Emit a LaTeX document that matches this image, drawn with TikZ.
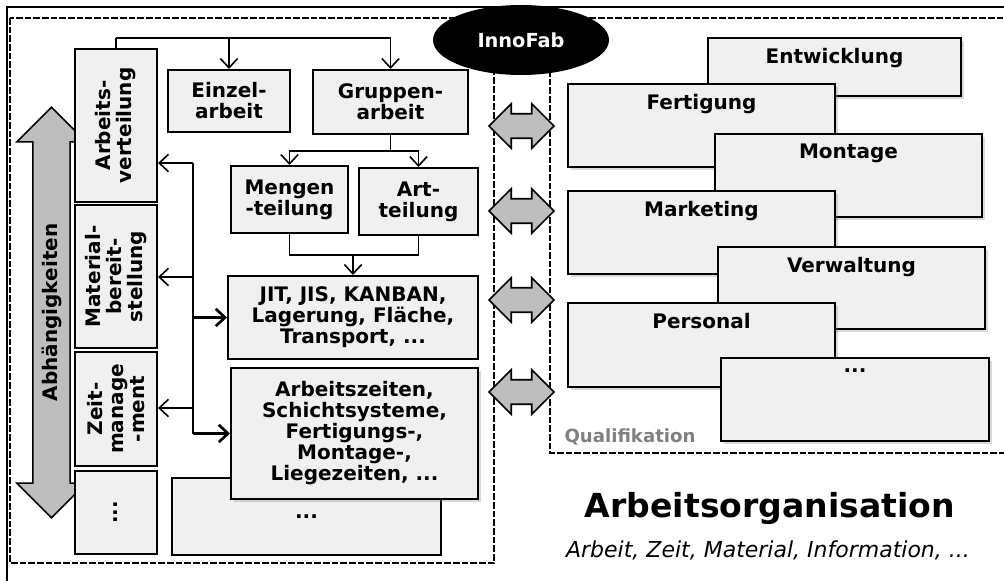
\documentclass[tikz,border=0pt]{standalone}
\usepackage{fontspec}
\setmainfont{DejaVu Sans}
\usetikzlibrary{positioning, shapes.geometric, shapes.arrows, arrows.meta, shadows}

\definecolor{boxgray}{HTML}{F0F0F0}
\definecolor{arrgray}{HTML}{BEBEBE}
\definecolor{labgray}{HTML}{808080}
\newcommand{\boxfont}{\bfseries\fontsize{15}{15.75}\selectfont}

\begin{document}
\begin{tikzpicture}[x=0.75pt, y=-0.75pt,
  box/.style={rectangle, draw=black, line width=1.5pt, fill=boxgray, font=\boxfont,
              align=center, inner sep=0pt},
  vbox/.style={box, rotate=90, minimum height=61.5pt},
  shade/.style={drop shadow={opacity=0.3, shadow xshift=2.5pt, shadow yshift=-2.5pt}},
  qbox/.style={box, shade, minimum width=200.25pt, minimum height=62.25pt},
  qtext/.style={anchor=north, yshift=-5pt, font=\boxfont},
  frame/.style={line width=1.2pt, dash pattern=on 5pt off 1.5pt},
  dblarr/.style={double arrow, draw=black, fill=arrgray, line width=1.2pt,
                 double arrow head extend=7.5pt, minimum height=48.75pt,
                 inner xsep=0pt, inner ysep=8.6pt},
  line/.style={line width=1.2pt},
  arr/.style={line width=1.2pt, -{Straight Barb[length=7pt, width=13pt]}},
  thickarr/.style={arr, line width=2pt}
]
\clip (0,0) rectangle (1004,581);

% Frames
\draw[line width=1.5pt] (7,600) -- (7,7) -- (1010,7);
\draw[frame] (10,18) rectangle (494,563);
\draw[frame] (494,18) -- (1010,18);
\draw[frame] (550,18) -- (550,453) -- (1010,453);

\node[ellipse, fill=black, minimum width=132pt, minimum height=52.5pt, text=white,
      font=\bfseries\fontsize{14.5}{16}\selectfont] (innofab) at (521,40) {InnoFab};

% Double arrows between both sides
\foreach \y [count=\i] in {126,211,300,392}
  \node[dblarr] (dbl\i) at (521.5,\y) {};

% Dependencies
\node[double arrow, draw=black, fill=arrgray, line width=1.2pt, rotate=90,
      minimum height=308pt, double arrow head extend=12pt, inner xsep=0pt,
      inner ysep=6pt, font=\boxfont] (abh) at (51.5,312.5) {Abhängigkeiten};

% Left column
\node[vbox, minimum width=114.75pt] (arbv) at (116,125.5) {Arbeits-\\verteilung};
\node[vbox, minimum width=107.25pt] (matb) at (116,276.5) {Material-\\bereit-\\stellung};
\node[vbox, minimum width=85.5pt] (zeitm) at (116,409) {Zeit-\\manage\\-ment};
\node[vbox, minimum width=62.25pt] (etc) at (116,512.5) {...};

% Middle boxes
\node[box, minimum width=91.5pt, minimum height=46.5pt] (einzel) at (229,101) {Einzel-\\arbeit};
\node[box, minimum width=116.25pt, minimum height=48pt] (gruppen) at (390.5,102) {Gruppen-\\arbeit};
\node[box, minimum width=87.75pt, minimum height=50.25pt] (mengen) at (289.5,199.5) {Mengen\\-teilung};
\node[box, minimum width=89.25pt, minimum height=50.25pt] (art) at (418.5,201.5) {Art-\\teilung};
\node[box, minimum width=187.5pt, minimum height=62.25pt] (jit) at (353,317.5)
  {JIT, JIS, KANBAN,\\Lagerung, Fläche,\\Transport, ...};
\node[box, minimum width=201.75pt, minimum height=57.75pt] (more) at (306.5,516.5) {...};
\node[box, shade, minimum width=185.25pt, minimum height=98.25pt] (zeiten) at (354.5,433.5)
  {Arbeitszeiten,\\Schichtsysteme,\\Fertigungs-,\\Montage-,\\Liegezeiten, ...};

% Connectors
\coordinate (tbus) at (116,38);
\draw[line] (arbv.east) -- (tbus);
\draw[arr] (tbus) -| (gruppen.north);
\draw[arr] (tbus -| einzel.north) -- (einzel.north);

\coordinate (gsplit) at (390.5,151);
\draw[line] (gruppen.south) -- (gsplit);
\draw[arr] (gsplit) -| (mengen.north);
\draw[arr] (gsplit) -| (art.north);

\coordinate (jmerge) at (353,255);
\draw[line] (mengen.south) |- (jmerge) -| (art.south);
\draw[arr] (jmerge) -- (jit.north);

\coordinate (bus1) at (193,163);
\coordinate (bus2) at (193,277);
\coordinate (bus3) at (193,408);
\draw[line] (bus1) -- (bus2);
\draw[line width=2pt] (bus2) -- (bus1 |- zeiten.west);
\draw[arr] (bus1) -- (bus1 -| arbv.south);
\draw[arr] (bus2) -- (bus2 -| matb.south);
\draw[arr] (bus3) -- (bus3 -| zeitm.south);
\draw[thickarr] (bus1 |- jit.west) -- (jit.west);
\draw[thickarr] (bus1 |- zeiten.west) -- (zeiten.west);

% Qualification
\node[qbox, minimum width=189.75pt, minimum height=43.5pt,
      label={[qtext]north:Entwicklung}] (entw) at (834.5,67) {};
\node[qbox, label={[qtext]north:Fertigung}] (fert) at (701.5,125.5) {};
\node[qbox, label={[qtext]north:Montage}] (mont) at (848.5,175.5) {};
\node[qbox, label={[qtext]north:Marketing}] (mark) at (701.5,232.5) {};
\node[qbox, minimum height=61.5pt, label={[qtext]north:Verwaltung}] (verw) at (851.5,288) {};
\node[qbox, minimum height=63pt, label={[qtext]north:Personal}] (pers) at (701.5,345) {};
\node[qbox, minimum width=201pt, label={[qtext]north:...}] (qmore) at (855,399.5) {};
\node[font=\bfseries\fontsize{13.6}{16}\selectfont, text=labgray] (qual) at (630,437) {Qualifikation};

% Title
\node[font=\bfseries\fontsize{24.8}{28}\selectfont] (title) at (770,509) {Arbeitsorganisation};
\node[font=\itshape\fontsize{16.5}{19}\selectfont] (subtitle) at (768,550)
  {Arbeit, Zeit, Material, Information, ...};

\end{tikzpicture}
\end{document}
